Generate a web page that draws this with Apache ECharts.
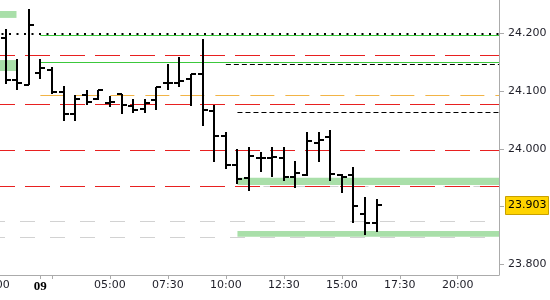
<!DOCTYPE html>
<html>
<head>
<meta charset="utf-8">
<script src="https://cdn.jsdelivr.net/npm/echarts@6/dist/echarts.min.js"></script>
<style>
html,body{margin:0;padding:0;background:#fff;}
#chart{width:550px;height:300px;}
</style>
</head>
<body>
<div id="chart"></div>
<script>
// ---- data (hours since 00:00 of the 9th) ----
const times  = [0.5,1,1.5,2,2.5,3,3.5,4,4.5,5,5.5,6,6.5,7,7.5,8,8.5,9,9.5,10,10.5,11,11.5,12,12.5,13,13.5,14,14.5,15,15.5,16,16.5];
const opens  = [24.192,24.119,24.111,24.132,24.137,24.099,24.060,24.093,24.087,24.080,24.095,24.074,24.070,24.084,24.115,24.115,24.122,24.129,24.066,24.022,23.972,23.949,23.984,23.984,23.985,23.952,23.955,24.011,24.021,23.955,23.955,23.888,23.872];
const highs  = [24.207,24.155,24.242,24.155,24.142,24.109,24.093,24.102,24.102,24.092,24.095,24.086,24.086,24.108,24.147,24.159,24.129,24.190,24.076,24.029,24.000,24.003,23.994,24.003,24.003,23.979,24.029,24.029,24.033,23.956,23.969,23.917,23.913];
const lows   = [24.112,24.103,24.111,24.121,24.095,24.049,24.049,24.076,24.085,24.073,24.060,24.062,24.062,24.067,24.103,24.108,24.074,24.040,23.978,23.965,23.939,23.928,23.960,23.952,23.945,23.932,23.954,23.978,23.945,23.923,23.871,23.851,23.857];
const closes = [24.119,24.115,24.214,24.140,24.099,24.060,24.086,24.081,24.102,24.081,24.076,24.067,24.080,24.107,24.114,24.118,24.129,24.067,24.022,23.972,23.948,23.988,23.984,23.986,23.952,23.958,24.014,24.015,23.956,23.952,23.901,23.872,23.903];

// horizontal levels
const redLevels        = [24.162, 24.077, 23.998, 23.936];
const greenLevels      = [24.1966, 24.150];
const greenStart       = 2.0;
const orangeLevels     = [24.093];
const orangeStart      = 2.0;
const blackDashLevels  = [24.146, 24.063];
const blackDashStarts  = [10.0, 10.5];
const dottedLevels     = [24.1992];
const grayLevels       = [23.935, 23.875, 23.848];
const grayStarts       = [10.5, 0, 0];
// zones
const zoneStarts = [0, 0, 10.5, 10.5];
const zoneEnds   = [0.97, 0.97, null, null];
const zoneLows   = [24.227, 24.135, 23.9375, 23.848];
const zoneHighs  = [24.239, 24.154, 23.950, 23.858];

// axis ticks / labels
const xTickHours  = [0, 2, 2.5, 5, 7.5, 10, 12.5, 15, 17.5, 20];
const xLabelHours = [0, 2, 5, 7.5, 10, 12.5, 15, 17.5, 20];
const xLabelTexts = ['00:00', '09', '05:00', '07:30', '10:00', '12:30', '15:00', '17:30', '20:00'];
const yTickValues  = [23.8, 23.9, 24.0, 24.1, 24.2];
const yLabelValues = [23.8, 24.0, 24.1, 24.2];

const X_MAX = 21.78;
const Y_MIN = 23.7818, Y_MAX = 24.2580;

// ---- build ----
const ohlc = times.map((t, i) => [t, opens[i], highs[i], lows[i], closes[i]]);

function levelSeries(values, starts, style, z) {
  return {
    type: 'line', data: [], z: z, silent: true,
    markLine: {
      silent: true, symbol: ['none', 'none'], label: {show: false}, animation: false,
      lineStyle: style,
      emphasis: {disabled: true},
      data: values.map((v, i) => [
        {coord: [Array.isArray(starts) ? starts[i] : starts, v]},
        {coord: [X_MAX, v]}
      ])
    }
  };
}

const areaData = zoneStarts.map((s, i) => [
  {coord: [s, zoneHighs[i]]},
  {coord: [zoneEnds[i] == null ? X_MAX : zoneEnds[i], zoneLows[i]]}
]);

const FONT = 'DejaVu Sans';
const chart = echarts.init(document.getElementById('chart'), null, {renderer: 'canvas'});
chart.setOption({
  animation: false,
  backgroundColor: '#fff',
  grid: {left: -6, right: 51, top: 0, bottom: 25, containLabel: false, outerBoundsMode: 'none'},
  xAxis: {
    type: 'value', min: 0, max: X_MAX,
    axisLine: {show: true, onZero: false, lineStyle: {color: '#ABABAB', width: 1}},
    axisTick: {show: true, customValues: xTickHours, length: 4, lineStyle: {color: '#ABABAB'}},
    axisLabel: {
      show: true, customValues: xLabelHours, margin: 5,
      color: '#1E1E28', fontFamily: FONT, fontSize: 11,
      formatter: v => {
        const i = xLabelHours.findIndex(h => Math.abs(h - v) < 1e-6);
        const txt = i >= 0 ? xLabelTexts[i] : '';
        return txt.length === 2 ? '{b|' + txt + '}' : txt;
      },
      rich: {b: {fontFamily: 'Liberation Serif', fontWeight: 'bold', fontSize: 13, color: '#000'}}
    },
    splitLine: {show: false}
  },
  yAxis: {
    type: 'value', position: 'right', min: Y_MIN, max: Y_MAX, scale: true,
    axisLine: {show: true, onZero: false, lineStyle: {color: '#ABABAB', width: 1}},
    axisTick: {show: true, customValues: yTickValues, length: 5, lineStyle: {color: '#ABABAB'}},
    axisLabel: {show: true, customValues: yLabelValues, margin: 9, color: '#1E1E28', fontFamily: FONT, fontSize: 11,
      formatter: v => v.toFixed(3)},
    splitLine: {show: false}
  },
  series: [
    {
      type: 'line', data: [], z: 1, silent: true,
      markArea: {silent: true, itemStyle: {color: '#A9DFA9', opacity: 1}, emphasis: {disabled: true}, data: areaData}
    },
    levelSeries(grayLevels, grayStarts, {color: '#D2D2D2', width: 1, type: [15, 15], dashOffset: 4, opacity: 1}, 2),
    levelSeries(redLevels, 0, {color: '#E82020', width: 1, type: [25, 10], dashOffset: 4, opacity: 1}, 3),
    levelSeries(greenLevels, greenStart, {color: '#3CC83C', width: 1, type: 'solid', opacity: 1}, 3),
    levelSeries(orangeLevels, orangeStart, {color: '#F2B446', width: 1, type: [24, 11], opacity: 1}, 3),
    levelSeries(blackDashLevels, blackDashStarts, {color: '#000000', width: 1, type: [5, 3], opacity: 1}, 3),
    levelSeries(dottedLevels, 0, {color: '#000000', width: 2, type: [2, 5.5], opacity: 1}, 3),
    {
      type: 'custom', z: 5, clip: true, silent: true,
      encode: {x: 0, y: [1, 2, 3, 4]},
      data: ohlc,
      renderItem: (params, api) => {
        const t = api.value(0);
        const pO = api.coord([t, api.value(1)]);
        const pH = api.coord([t, api.value(2)]);
        const pL = api.coord([t, api.value(3)]);
        const pC = api.coord([t, api.value(4)]);
        const x = Math.round(pH[0]);
        const yH = Math.round(pH[1]), yL = Math.round(pL[1]);
        const yO = Math.round(pO[1]), yC = Math.round(pC[1]);
        return {type: 'group', children: [
          {type: 'rect', shape: {x: x - 1, y: yH, width: 2, height: Math.max(2, yL - yH)}, style: {fill: '#000'}},
          {type: 'rect', shape: {x: x - 5, y: yO - 1, width: 5, height: 2}, style: {fill: '#000'}},
          {type: 'rect', shape: {x: x, y: yC - 1, width: 5, height: 2}, style: {fill: '#000'}}
        ]};
      }
    },
    {
      type: 'custom', z: 10, clip: false, silent: true,
      data: [[times[times.length - 1], closes[closes.length - 1]]],
      encode: {x: 0, y: 1},
      renderItem: (params, api) => {
        const v = api.value(1);
        const p = api.coord([api.value(0), v]);
        const cs = params.coordSys;
        const x0 = cs.x + cs.width + 6;
        const y = Math.round(p[1]);
        return {type: 'group', children: [
          {type: 'rect', shape: {x: x0 + 0.5, y: y - 9 + 0.5, width: 43, height: 18}, style: {fill: '#FFD400', stroke: '#C8A000', lineWidth: 1}},
          {type: 'text', style: {text: v.toFixed(3), x: x0 + 3, y: y + 0.5, fill: '#000', font: '11px "DejaVu Sans"', align: 'left', verticalAlign: 'middle'}}
        ]};
      }
    }
  ]
});
</script>
</body>
</html>
